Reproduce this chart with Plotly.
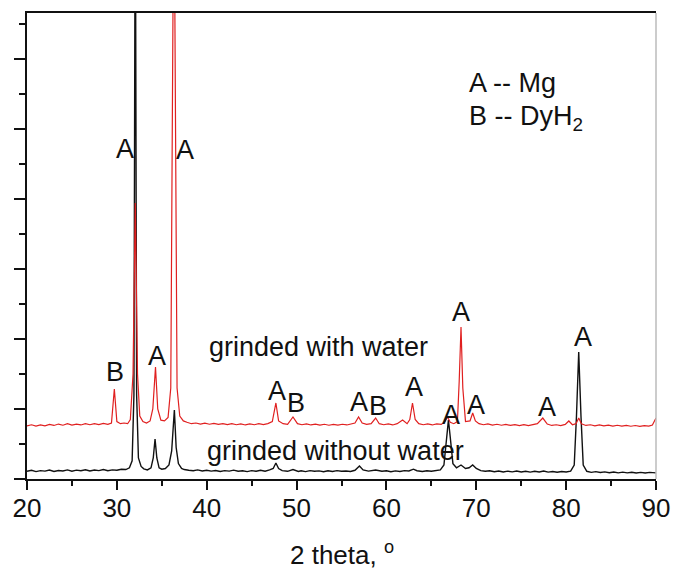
import plotly.graph_objects as go

# ---- data (y in arbitrary units, one major y tick = 1000) ----
black_x = [20.0, 20.5, 21.0, 21.5, 22.0, 22.5, 23.0, 23.5, 24.0, 24.5, 25.0, 25.5, 26.0, 26.5,
           27.0, 27.5, 28.0, 28.5, 29.0, 29.5, 30.0, 30.5, 31.0, 31.4, 31.7, 31.9, 32.05, 32.2,
           32.4, 32.7, 33.0, 33.4, 33.8, 34.05, 34.25, 34.45, 34.7, 35.0, 35.4, 35.8, 36.1, 36.4,
           36.6, 36.85, 37.2, 37.5, 38.0, 38.5, 39.0, 39.5, 40.0, 40.5, 41.0, 41.5, 42.0, 42.5,
           43.0, 43.5, 44.0, 44.5, 45.0, 45.5, 46.0, 46.5, 47.0, 47.4, 47.7, 48.0, 48.4, 49.0,
           49.6, 50.2, 50.5, 51.0, 51.5, 52.0, 52.5, 53.0, 53.5, 54.0, 54.5, 55.0, 55.5, 56.0,
           56.5, 57.0, 57.4, 58.0, 58.8, 59.5, 60.0, 60.5, 61.0, 61.5, 62.0, 62.5, 63.0, 63.4,
           64.0, 64.5, 65.0, 65.5, 66.0, 66.4, 66.7, 66.9, 67.1, 67.4, 67.8, 68.3, 68.8, 69.2,
           69.6, 70.0, 70.5, 71.0, 71.5, 72.0, 72.5, 73.0, 73.5, 74.0, 74.5, 75.0, 75.5, 76.0,
           76.5, 77.0, 77.5, 78.0, 78.5, 79.0, 79.5, 80.0, 80.5, 80.9, 81.15, 81.4, 81.65, 81.9,
           82.3, 82.8, 83.3, 83.8, 84.3, 84.8, 85.3, 85.8, 86.3, 86.8, 87.3, 87.8, 88.3, 88.8,
           89.3, 90.0]
black_y = [110, 125, 105, 120, 112, 128, 108, 122, 115, 130, 112, 126, 118, 132,
           114, 128, 120, 135, 118, 130, 125, 140, 135, 160, 260, 1200, 9000, 1200,
           300, 180, 145, 130, 160, 300, 571, 300, 160, 140, 150, 200, 400, 986,
           450, 220, 150, 135, 125, 118, 130, 115, 125, 112, 122, 108, 120, 112,
           126, 110, 118, 105, 120, 110, 124, 112, 130, 150, 229, 150, 120, 110,
           135, 108, 118, 106, 120, 110, 116, 104, 118, 108, 120, 110, 115, 108,
           125, 186, 130, 112, 128, 110, 118, 104, 116, 108, 120, 115, 140, 118,
           108, 118, 110, 122, 130, 200, 600, 843, 600, 220, 160, 200, 150, 160,
           200, 150, 120, 110, 118, 104, 115, 100, 112, 102, 114, 100, 110, 98,
           110, 100, 115, 98, 108, 96, 108, 100, 112, 200, 900, 1814, 900, 200,
           110, 95, 105, 92, 102, 90, 100, 88, 98, 88, 96, 86, 95, 85,
           94, 88]

red_x = [20.0, 20.5, 21.0, 21.5, 22.0, 22.5, 23.0, 23.5, 24.0, 24.5, 25.0, 25.5, 26.0, 26.5,
         27.0, 27.5, 28.0, 28.5, 29.0, 29.4, 29.72, 30.0, 30.4, 30.8, 31.2, 31.5, 31.8, 32.05,
         32.3, 32.55, 32.9, 33.3, 33.7, 34.0, 34.3, 34.55, 34.9, 35.3, 35.7, 36.0, 36.35, 36.7,
         37.0, 37.4, 37.8, 38.3, 38.8, 39.3, 39.8, 40.3, 40.8, 41.3, 41.8, 42.3, 42.8, 43.3,
         43.8, 44.3, 44.8, 45.3, 45.8, 46.3, 46.8, 47.3, 47.7, 48.0, 48.5, 49.0, 49.6, 50.1,
         50.6, 51.1, 51.6, 52.1, 52.6, 53.1, 53.6, 54.1, 54.6, 55.1, 55.6, 56.1, 56.5, 56.9,
         57.3, 57.8, 58.3, 58.8, 59.2, 59.7, 60.2, 60.7, 61.2, 61.8, 62.3, 62.6, 62.9, 63.2,
         63.6, 64.1, 64.6, 65.1, 65.6, 66.1, 66.5, 66.8, 67.1, 67.5, 67.9, 68.1, 68.3, 68.5,
         68.8, 69.3, 69.6, 69.9, 70.3, 70.8, 71.3, 71.8, 72.3, 72.8, 73.3, 73.8, 74.3, 74.8,
         75.3, 75.8, 76.3, 76.8, 77.4, 77.9, 78.4, 78.9, 79.4, 79.9, 80.3, 80.7, 81.1, 81.4,
         81.7, 82.2, 82.7, 83.2, 83.7, 84.2, 84.7, 85.2, 85.7, 86.2, 86.7, 87.2, 87.7, 88.2,
         88.7, 89.2, 89.6, 90.0]
red_y = [760, 775, 755, 772, 760, 780, 765, 785, 768, 790, 770, 785, 772, 790,
         775, 792, 778, 795, 780, 800, 1286, 820, 790, 800, 790, 850, 1500, 3943,
         1500, 900, 820, 800, 830, 1000, 1600, 1000, 840, 830, 880, 1300, 9000, 1300,
         900, 830, 810, 790, 800, 785, 798, 782, 795, 780, 792, 778, 790, 775,
         788, 772, 786, 775, 790, 776, 792, 820, 1086, 830, 790, 780, 886, 790,
         775, 788, 772, 785, 770, 782, 768, 780, 770, 782, 772, 785, 800, 886,
         800, 780, 790, 871, 790, 775, 786, 772, 790, 843, 790, 850, 1086, 850,
         790, 775, 786, 772, 788, 780, 820, 886, 810, 790, 820, 1400, 2171, 1300,
         820, 830, 943, 830, 790, 775, 786, 770, 782, 768, 780, 766, 778, 764,
         776, 764, 776, 790, 871, 785, 765, 775, 762, 780, 829, 775, 790, 871,
         790, 765, 775, 760, 772, 758, 770, 756, 768, 755, 766, 754, 764, 752,
         762, 755, 770, 871]

# peak labels: text, x (2 theta), y (a.u.)
label_text = ["A", "A", "B", "A", "A", "B", "A", "B", "A", "A", "A", "A", "A", "A"]
label_x = [30.91, 37.58, 29.79, 34.47, 47.82, 49.94, 56.95, 59.06, 63.07, 67.18, 69.97, 68.30, 77.87, 81.87]
label_y = [4714, 4700, 1529, 1757, 1257, 1086, 1100, 1043, 1314, 914, 1057, 2386, 1029, 2029]

series_names = ["grinded without water", "grinded with water"]
series_label_x = [54.28, 52.49]
series_label_y = [400, 1886]

legend_lines = ["A -- Mg", "B -- DyH<sub>2</sub>"]

x_ticks = [20, 30, 40, 50, 60, 70, 80, 90]
x_title = "2 theta, <sup>o</sup>"

FONT = "Liberation Sans, Arial, Helvetica, sans-serif"

fig = go.Figure()
fig.add_trace(go.Scatter(x=black_x, y=black_y, mode="lines", name=series_names[0],
                         line=dict(color="#111111", width=1.4)))
fig.add_trace(go.Scatter(x=red_x, y=red_y, mode="lines", name=series_names[1],
                         line=dict(color="#e02020", width=1.2)))

annotations = []
for t, x, y in zip(label_text, label_x, label_y):
    annotations.append(dict(x=x, y=y, xref="x", yref="y", text=t, showarrow=False,
                            xanchor="center", yanchor="middle",
                            font=dict(family=FONT, size=27, color="#111111")))
for t, x, y in zip(series_names, series_label_x, series_label_y):
    annotations.append(dict(x=x, y=y, xref="x", yref="y", text=t, showarrow=False,
                            xanchor="center", yanchor="middle",
                            font=dict(family=FONT, size=27, color="#111111")))
for i, t in enumerate(legend_lines):
    annotations.append(dict(x=0.6995, y=0.8498 - i * 0.0751, xref="paper", yref="paper",
                            text=t, showarrow=False, xanchor="left", yanchor="middle",
                            font=dict(family=FONT, size=27, color="#111111")))
# x-axis title
annotations.append(dict(x=0.5, y=-0.160, xref="paper", yref="paper", text=x_title,
                        showarrow=False, xanchor="center", yanchor="middle",
                        font=dict(family=FONT, size=26, color="#111111")))

fig.update_layout(
    width=673, height=571,
    margin=dict(l=27, r=17, t=13, b=92, autoexpand=False),
    paper_bgcolor="white", plot_bgcolor="white",
    showlegend=False,
    annotations=annotations,
    font=dict(family=FONT, size=26, color="#111111"),
    shapes=[dict(type="line", xref="paper", yref="paper", x0=1, x1=1, y0=0, y1=1,
                 line=dict(color="#bbbbbb", width=1.5))],
)
fig.update_xaxes(
    range=[20, 90], tickvals=x_ticks, ticks="outside", ticklen=9, tickwidth=1.5,
    tickcolor="#111111", showline=True, linecolor="#111111", linewidth=1.5, mirror=True,
    showgrid=False, zeroline=False, automargin=False, ticklabelstandoff=-4,
    minor=dict(dtick=5, ticks="outside", ticklen=5, tickwidth=1.5, tickcolor="#111111", showgrid=False),
    tickfont=dict(family=FONT, size=26, color="#111111"),
)
fig.update_yaxes(
    range=[0, 6657], dtick=1000, tick0=0, ticks="outside", ticklen=11, tickwidth=1.5,
    tickcolor="#111111", showline=True, linecolor="#111111", linewidth=1.5, mirror=False,
    showticklabels=False, showgrid=False, zeroline=False, automargin=False,
    minor=dict(dtick=500, ticks="outside", ticklen=6, tickwidth=1.5, tickcolor="#111111", showgrid=False),
)

fig.write_html("out.html")
